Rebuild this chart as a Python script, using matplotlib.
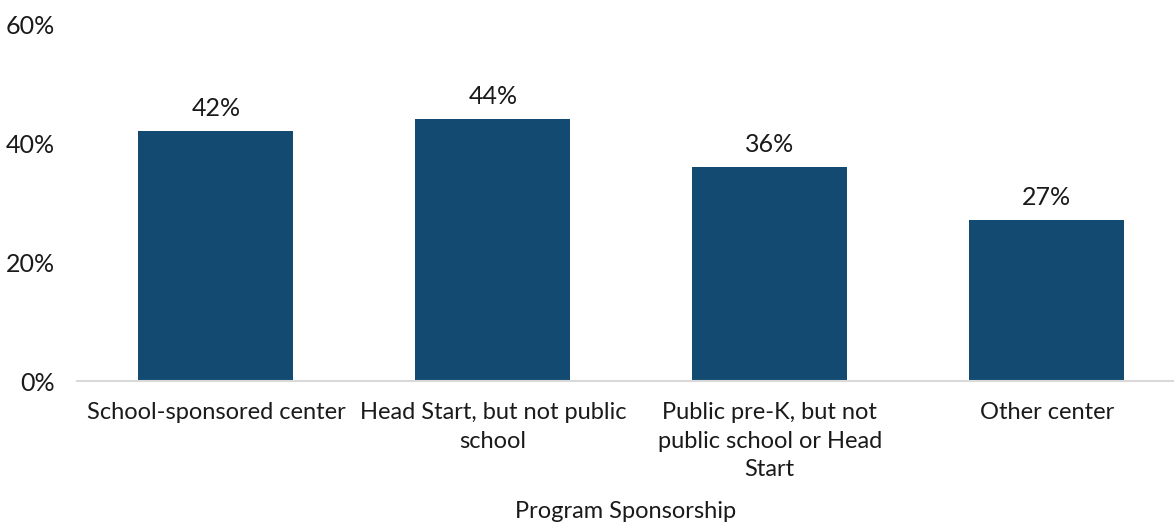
import matplotlib
matplotlib.use("Agg")
import matplotlib.pyplot as plt

# data
categories = ["School-sponsored center", "Head Start, but not public\nschool",
              "Public pre-K, but not\npublic school or Head\nStart", "Other center"]
values = [42, 44, 36, 27]
y_ticks = [0, 20, 40, 60]
x_title = "Program Sponsorship"

plt.rcParams['font.family'] = ['Lato', 'DejaVu Sans']

fig = plt.figure(figsize=(11.74, 5.25), dpi=100)
ax = fig.add_axes([0.066, 0.274, 0.934, 0.68])

x = range(len(values))
bars = ax.bar(x, values, width=0.56, color='#134A72')
for b, v in zip(bars, values):
    ax.text(b.get_x() + b.get_width() / 2, v + 1.9, f"{v}%",
            ha='center', va='bottom', fontsize=18, color='#1a1a1a')

ax.set_xlim(-0.5, 3.46)
ax.set_ylim(0, 60)
ax.set_yticks(y_ticks)
ax.set_yticklabels([f"{t}%" for t in y_ticks], fontsize=18, color='#1a1a1a')
ax.set_xticks(list(x))
ax.set_xticklabels(categories, fontsize=17, color='#1a1a1a', linespacing=1.45)
ax.tick_params(axis='both', length=0)
ax.tick_params(axis='y', pad=16)
ax.tick_params(axis='x', pad=15)
ax.set_xlabel(x_title, fontsize=17, color='#1a1a1a', labelpad=15)

for s in ['top', 'right', 'left']:
    ax.spines[s].set_visible(False)
ax.spines['bottom'].set_color('#d9d9d9')
ax.spines['bottom'].set_linewidth(1.5)

fig.savefig("out.png", dpi=100)
